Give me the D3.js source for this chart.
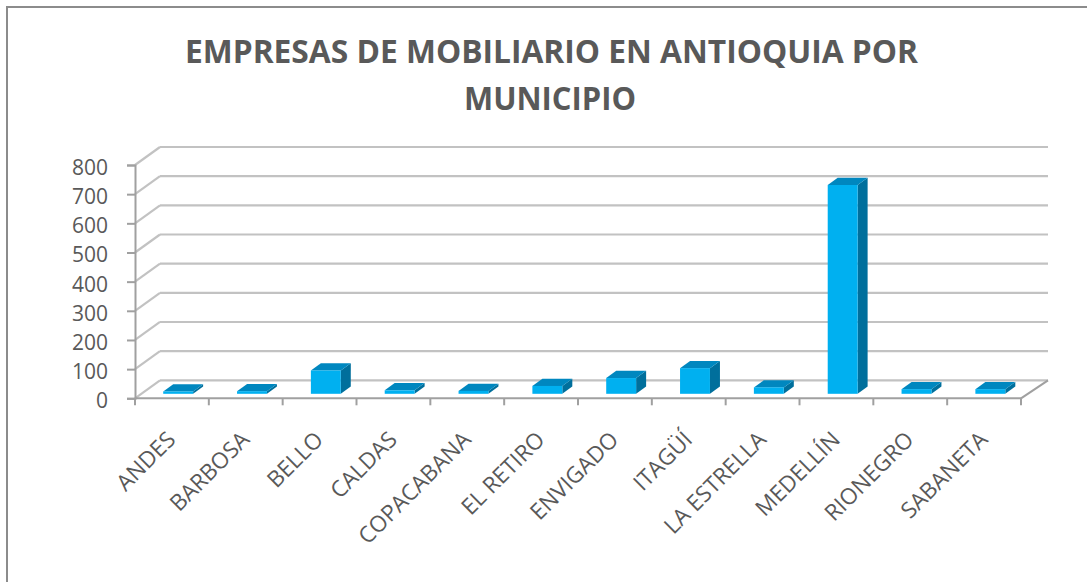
<!DOCTYPE html>
<html>
<head>
<meta charset="utf-8">
<script src="https://cdn.jsdelivr.net/npm/d3@7/dist/d3.min.js"></script>
<style>
  html, body { margin: 0; padding: 0; background: #fff; }
  svg { display: block; }
  text { font-family: "Open Sans", "DejaVu Sans", sans-serif; fill: #595959; }
</style>
</head>
<body>
<svg id="chart" width="1087" height="582"></svg>
<script>
// ---- data ----
const categories = ["ANDES", "BARBOSA", "BELLO", "CALDAS", "COPACABANA", "EL RETIRO",
                    "ENVIGADO", "ITAGÜÍ", "LA ESTRELLA", "MEDELLÍN", "RIONEGRO", "SABANETA"];
const values = [8, 9, 80, 12, 10, 27, 54, 88, 22, 716, 16, 16];
const yTicks = [0, 100, 200, 300, 400, 500, 600, 700, 800];
const titleLines = ["EMPRESAS DE MOBILIARIO EN ANTIOQUIA POR", "MUNICIPIO"];

// ---- layout ----
const W = 1087, H = 582;
const left = 135, right = 1021, y0px = 398.3, ytop = 165;
const DX = 25, DY = -18;          // depth offset of back wall
const d1 = 0.25, d2 = 0.65;       // bar depth span (fraction of full depth)

const svg = d3.select("#chart");

// border
svg.append("rect").attr("x", 7).attr("y", 7).attr("width", W + 10).attr("height", H + 10)
  .attr("fill", "#fff").attr("stroke", "#8c8c8c").attr("stroke-width", 2);

// title
const titleT = svg.append("g");
titleT.append("text").attr("x", 551.5).attr("y", 63)
  .attr("text-anchor", "middle").attr("font-size", 32).attr("font-weight", 700)
  .attr("textLength", 733).attr("lengthAdjust", "spacingAndGlyphs").text(titleLines[0]);
titleT.append("text").attr("x", 550).attr("y", 110)
  .attr("text-anchor", "middle").attr("font-size", 32).attr("font-weight", 700)
  .attr("textLength", 172).attr("lengthAdjust", "spacingAndGlyphs").text(titleLines[1]);

// scales
const x = d3.scaleBand().domain(categories).range([left, right]).padding(0);
const y = d3.scaleLinear().domain([0, 800]).range([y0px, ytop]);

const gridColor = "#c2c2c2", axisColor = "#a0a0a0";

// back wall gridlines & side wall diagonals
const grid = svg.append("g");
yTicks.forEach(t => {
  grid.append("line")
    .attr("x1", left + DX).attr("y1", y(t) + DY)
    .attr("x2", right + DX + 2).attr("y2", y(t) + DY)
    .attr("stroke", gridColor).attr("stroke-width", 2.2);
  grid.append("line")
    .attr("x1", left).attr("y1", y(t))
    .attr("x2", left + DX).attr("y2", y(t) + DY)
    .attr("stroke", gridColor).attr("stroke-width", 2.2);
});
// floor right edge
grid.append("line")
  .attr("x1", right).attr("y1", y(0))
  .attr("x2", right + DX + 2).attr("y2", y(0) + DY)
  .attr("stroke", axisColor).attr("stroke-width", 2);

// y axis
const yAxis = d3.axisLeft(y).tickValues(yTicks).tickSize(8).tickPadding(19)
  .tickFormat(d3.format("d"));
const gy = svg.append("g").attr("transform", `translate(${left},0)`).call(yAxis);
gy.select(".domain").attr("stroke", axisColor).attr("stroke-width", 2);
gy.selectAll(".tick line").attr("stroke", axisColor).attr("stroke-width", 2);
gy.selectAll(".tick text").attr("font-size", 21).attr("dy", "0.45em")
  .attr("font-family", '"Open Sans", sans-serif').attr("fill", "#595959");

// x axis (front floor edge)
const gx = svg.append("g");
gx.append("line").attr("x1", left).attr("y1", y(0)).attr("x2", right).attr("y2", y(0))
  .attr("stroke", axisColor).attr("stroke-width", 2);
const tickXs = categories.map(c => x(c)).concat([x.range()[1]]);
gx.selectAll("line.tk").data(tickXs).join("line").attr("class", "tk")
  .attr("x1", d => d).attr("x2", d => d).attr("y1", y(0)).attr("y2", y(0) + 7)
  .attr("stroke", axisColor).attr("stroke-width", 2);
gx.selectAll("text.lbl").data(categories).join("text").attr("class", "lbl")
  .attr("transform", d => `translate(${x(d) + x.bandwidth() / 2 + 5},441) rotate(-45)`)
  .attr("text-anchor", "end").attr("font-size", 22.5).text(d => d);

// bars
const barW = x.bandwidth() * 0.405;
const bdx = (d2 - d1) * DX, bdy = (d2 - d1) * DY;
const bars = svg.append("g");
categories.forEach((c, i) => {
  const v = values[i];
  const x0 = x(c) + (x.bandwidth() - barW) / 2 + d1 * DX;
  const bot = y(0) + d1 * DY;
  const top = y(v) + d1 * DY;
  const g = bars.append("g");
  g.append("path").attr("d",
    `M${x0 + barW},${top} L${x0 + barW + bdx},${top + bdy} L${x0 + barW + bdx},${bot + bdy} L${x0 + barW},${bot} Z`)
    .attr("fill", "#006f9c");
  g.append("path").attr("d",
    `M${x0},${top} L${x0 + barW},${top} L${x0 + barW + bdx},${top + bdy} L${x0 + bdx},${top + bdy} Z`)
    .attr("fill", "#0087bf");
  g.append("rect").attr("x", x0).attr("y", top).attr("width", barW).attr("height", Math.max(0, bot - top))
    .attr("fill", "#00b0f0");
});
</script>
</body>
</html>
